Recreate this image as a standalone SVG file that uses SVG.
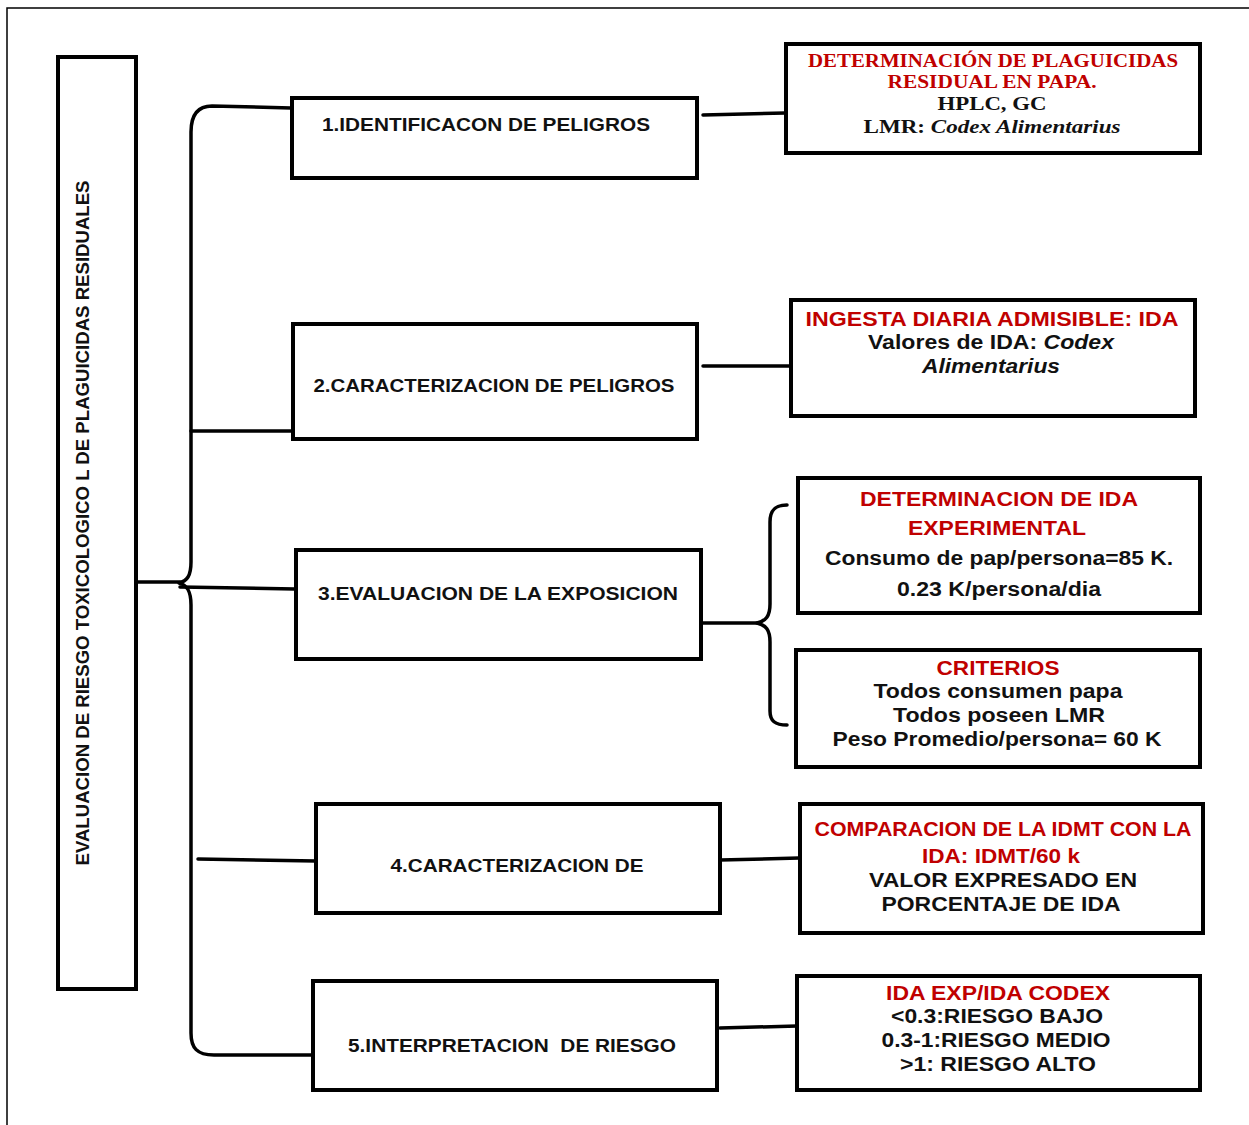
<svg xmlns="http://www.w3.org/2000/svg" width="1249" height="1125" viewBox="0 0 1249 1125">
<style>
.box{fill:#fff;stroke:#000;stroke-width:4}
.lbl{font-family:"Liberation Sans",Arial,sans-serif;font-weight:bold;font-size:19px;fill:#111;text-anchor:middle}
.r{fill:#c00000}
.k{fill:#111}
.ser{font-family:"Liberation Serif","Times New Roman",serif;font-weight:bold;font-size:19px;text-anchor:middle}
.san{font-family:"Liberation Sans",Arial,sans-serif;font-weight:bold;font-size:20px;text-anchor:middle}
.con{fill:none;stroke:#000;stroke-width:3.5;stroke-linecap:round;stroke-linejoin:round}
</style>
<rect x="0" y="0" width="1249" height="1125" fill="#fff"/>
<path d="M 7,1125 L 7,8 L 1249,8" fill="none" stroke="#000" stroke-width="1.5"/>

<g id="connectors">
<path class="con" d="M 291,108 L 212,106 C 197,106 191,116 191,132 L 191,562 C 191,576 187,581 179,583 C 187,585 191,591 191,605 L 191,1033 C 191,1048 197,1055 214,1055 L 313,1055"/>
<line class="con" x1="137" y1="582" x2="180" y2="582"/>
<line class="con" x1="180" y1="587" x2="295" y2="589"/>
<line class="con" x1="191" y1="431" x2="293" y2="431"/>
<line class="con" x1="198" y1="859" x2="316" y2="861"/>
<line class="con" x1="703" y1="115" x2="785" y2="113"/>
<line class="con" x1="703" y1="366" x2="790" y2="366"/>
<line class="con" x1="701" y1="623" x2="757" y2="623"/>
<path class="con" d="M 787,505 C 775,505 770,510 770,522 L 770,604 C 770,616 766,621 757,623 C 766,625 770,630 770,642 L 770,711 C 770,721 775,725 787,725"/>
<line class="con" x1="720" y1="860" x2="799" y2="858"/>
<line class="con" x1="720" y1="1028" x2="797" y2="1026"/>
</g>

<g id="root">
<rect class="box" x="58" y="57" width="78" height="932"/>
<text class="lbl" transform="translate(89,523) rotate(-90)" font-size="18" textLength="685" lengthAdjust="spacingAndGlyphs">EVALUACION DE RIESGO TOXICOLOGICO L DE PLAGUICIDAS RESIDUALES</text>
</g>

<g id="n1">
<rect class="box" x="292" y="98" width="405" height="80"/>
<text class="lbl" x="486" y="131" textLength="328" lengthAdjust="spacingAndGlyphs">1.IDENTIFICACON DE PELIGROS</text>
</g>
<g id="n2">
<rect class="box" x="293" y="324" width="404" height="115"/>
<text class="lbl" x="494" y="392" textLength="361" lengthAdjust="spacingAndGlyphs">2.CARACTERIZACION DE PELIGROS</text>
</g>
<g id="n3">
<rect class="box" x="296" y="550" width="405" height="109"/>
<text class="lbl" x="498" y="600" textLength="360" lengthAdjust="spacingAndGlyphs">3.EVALUACION DE LA EXPOSICION</text>
</g>
<g id="n4">
<rect class="box" x="316" y="804" width="404" height="109"/>
<text class="lbl" x="517" y="872" textLength="253" lengthAdjust="spacingAndGlyphs">4.CARACTERIZACION DE</text>
</g>
<g id="n5">
<rect class="box" x="313" y="981" width="404" height="109"/>
<text class="lbl" x="512" y="1052" textLength="328" lengthAdjust="spacingAndGlyphs" xml:space="preserve">5.INTERPRETACION  DE RIESGO</text>
</g>

<g id="d1">
<rect class="box" x="786" y="44" width="414" height="109"/>
<text class="ser r" x="993" y="67" textLength="370" lengthAdjust="spacingAndGlyphs">DETERMINACIÓN DE PLAGUICIDAS</text>
<text class="ser r" x="992" y="88" textLength="209" lengthAdjust="spacingAndGlyphs">RESIDUAL EN PAPA.</text>
<text class="ser k" x="992" y="110" textLength="109" lengthAdjust="spacingAndGlyphs">HPLC, GC</text>
<text class="ser k" x="992" y="133" textLength="257" lengthAdjust="spacingAndGlyphs">LMR: <tspan font-style="italic">Codex Alimentarius</tspan></text>
</g>

<g id="d2">
<rect class="box" x="791" y="300" width="404" height="116"/>
<text class="san r" x="992" y="326" font-size="21" textLength="373" lengthAdjust="spacingAndGlyphs">INGESTA DIARIA ADMISIBLE: IDA</text>
<text class="san k" x="991" y="349" textLength="246" lengthAdjust="spacingAndGlyphs">Valores de IDA: <tspan font-style="italic">Codex</tspan></text>
<text class="san k" x="991" y="373" font-style="italic" textLength="138" lengthAdjust="spacingAndGlyphs">Alimentarius</text>
</g>

<g id="d3a">
<rect class="box" x="798" y="478" width="402" height="135"/>
<text class="san r" x="999" y="506" textLength="278" lengthAdjust="spacingAndGlyphs">DETERMINACION DE IDA</text>
<text class="san r" x="997" y="535" textLength="178" lengthAdjust="spacingAndGlyphs">EXPERIMENTAL</text>
<text class="san k" x="999" y="565" textLength="348" lengthAdjust="spacingAndGlyphs">Consumo de pap/persona=85 K.</text>
<text class="san k" x="999" y="596" textLength="204" lengthAdjust="spacingAndGlyphs">0.23 K/persona/dia</text>
</g>

<g id="d3b">
<rect class="box" x="796" y="650" width="404" height="117"/>
<text class="san r" x="998" y="675" textLength="123" lengthAdjust="spacingAndGlyphs">CRITERIOS</text>
<text class="san k" x="998" y="698" textLength="249" lengthAdjust="spacingAndGlyphs">Todos consumen papa</text>
<text class="san k" x="999" y="722" textLength="212" lengthAdjust="spacingAndGlyphs">Todos poseen LMR</text>
<text class="san k" x="997" y="746" textLength="329" lengthAdjust="spacingAndGlyphs">Peso Promedio/persona= 60 K</text>
</g>

<g id="d4">
<rect class="box" x="800" y="804" width="403" height="129"/>
<text class="san r" x="1003" y="836" textLength="377" lengthAdjust="spacingAndGlyphs">COMPARACION DE LA IDMT CON LA</text>
<text class="san r" x="1001" y="863" textLength="158" lengthAdjust="spacingAndGlyphs">IDA: IDMT/60 k</text>
<text class="san k" x="1003" y="887" textLength="268" lengthAdjust="spacingAndGlyphs">VALOR EXPRESADO EN</text>
<text class="san k" x="1001" y="911" textLength="239" lengthAdjust="spacingAndGlyphs">PORCENTAJE DE IDA</text>
</g>

<g id="d5">
<rect class="box" x="797" y="976" width="403" height="114"/>
<text class="san r" x="998" y="1000" textLength="224" lengthAdjust="spacingAndGlyphs">IDA EXP/IDA CODEX</text>
<text class="san k" x="997" y="1023" textLength="212" lengthAdjust="spacingAndGlyphs">&lt;0.3:RIESGO BAJO</text>
<text class="san k" x="996" y="1047" textLength="229" lengthAdjust="spacingAndGlyphs">0.3-1:RIESGO MEDIO</text>
<text class="san k" x="998" y="1071" textLength="196" lengthAdjust="spacingAndGlyphs">&gt;1: RIESGO ALTO</text>
</g>
</svg>
